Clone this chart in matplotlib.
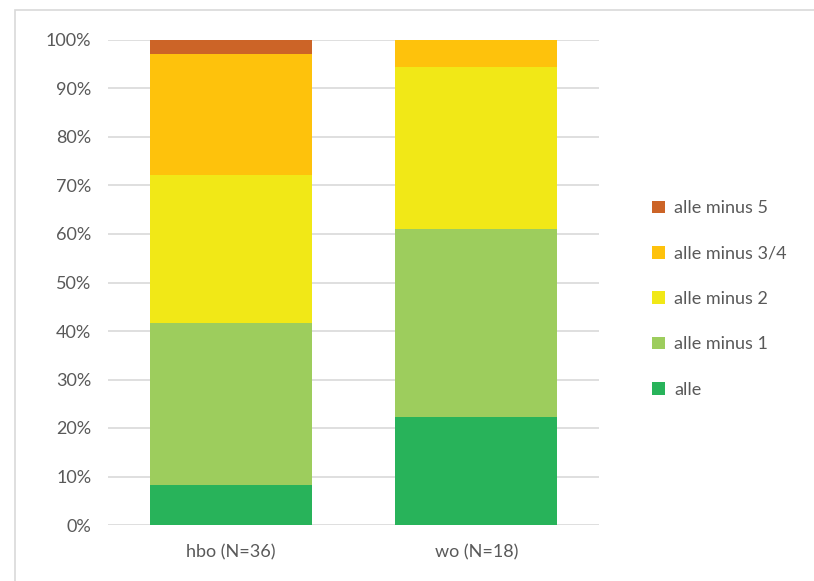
import matplotlib.pyplot as plt
from matplotlib.patches import Rectangle

categories = ["hbo (N=36)", "wo (N=18)"]
series = ["alle", "alle minus 1", "alle minus 2", "alle minus 3/4", "alle minus 5"]
values = {
    "alle": [8.3, 22.2],
    "alle minus 1": [33.3, 38.9],
    "alle minus 2": [30.6, 33.3],
    "alle minus 3/4": [25.0, 5.6],
    "alle minus 5": [2.8, 0.0],
}
colors = ["#28b35a", "#9dcd5d", "#f1e817", "#fec20c", "#cc6427"]
yticks = [0, 10, 20, 30, 40, 50, 60, 70, 80, 90, 100]

plt.rcParams['font.family'] = ['Lato', 'DejaVu Sans']
text_color = "#595959"

fig = plt.figure(figsize=(8.14, 5.81), dpi=100)
ax = fig.add_axes([108 / 814, 56 / 581, 491 / 814, 485 / 581])

# chart frame (cropped at right and bottom in the original)
fig.patches.append(Rectangle((15 / 814, -0.1), 2, (581 - 10) / 581 + 0.1,
                             transform=fig.transFigure, fill=False,
                             edgecolor="#d9d9d9", linewidth=1.2))

x = range(len(categories))
bottom = [0.0] * len(categories)
handles = []
for name, col in zip(series, colors):
    vals = values[name]
    b = ax.bar(x, vals, width=0.66, bottom=bottom, color=col, label=name, zorder=3)
    handles.append(b)
    bottom = [bo + v for bo, v in zip(bottom, vals)]

ax.set_xlim(-0.5, 1.5)
ax.set_ylim(0, 100)
ax.set_yticks(yticks)
ax.set_yticklabels([f"{t}%" for t in yticks], color=text_color, fontsize=13)
ax.set_xticks(list(x))
ax.set_xticklabels(categories, color=text_color, fontsize=13)
ax.tick_params(axis="both", length=0, pad=12)
ax.tick_params(axis="x", pad=14)
ax.yaxis.grid(True, color="#d9d9d9", linewidth=1.2, zorder=0)
ax.set_axisbelow(True)
for s in ax.spines.values():
    s.set_visible(False)

leg = fig.legend(handles[::-1], series[::-1], loc="center left",
                 bbox_to_anchor=(636 / 814, 1 - 299 / 581), frameon=False,
                 fontsize=13, handlelength=0.7, handleheight=0.7,
                 handletextpad=0.5, labelspacing=1.63)
for t in leg.get_texts():
    t.set_color(text_color)

fig.savefig("out.png", dpi=100)
